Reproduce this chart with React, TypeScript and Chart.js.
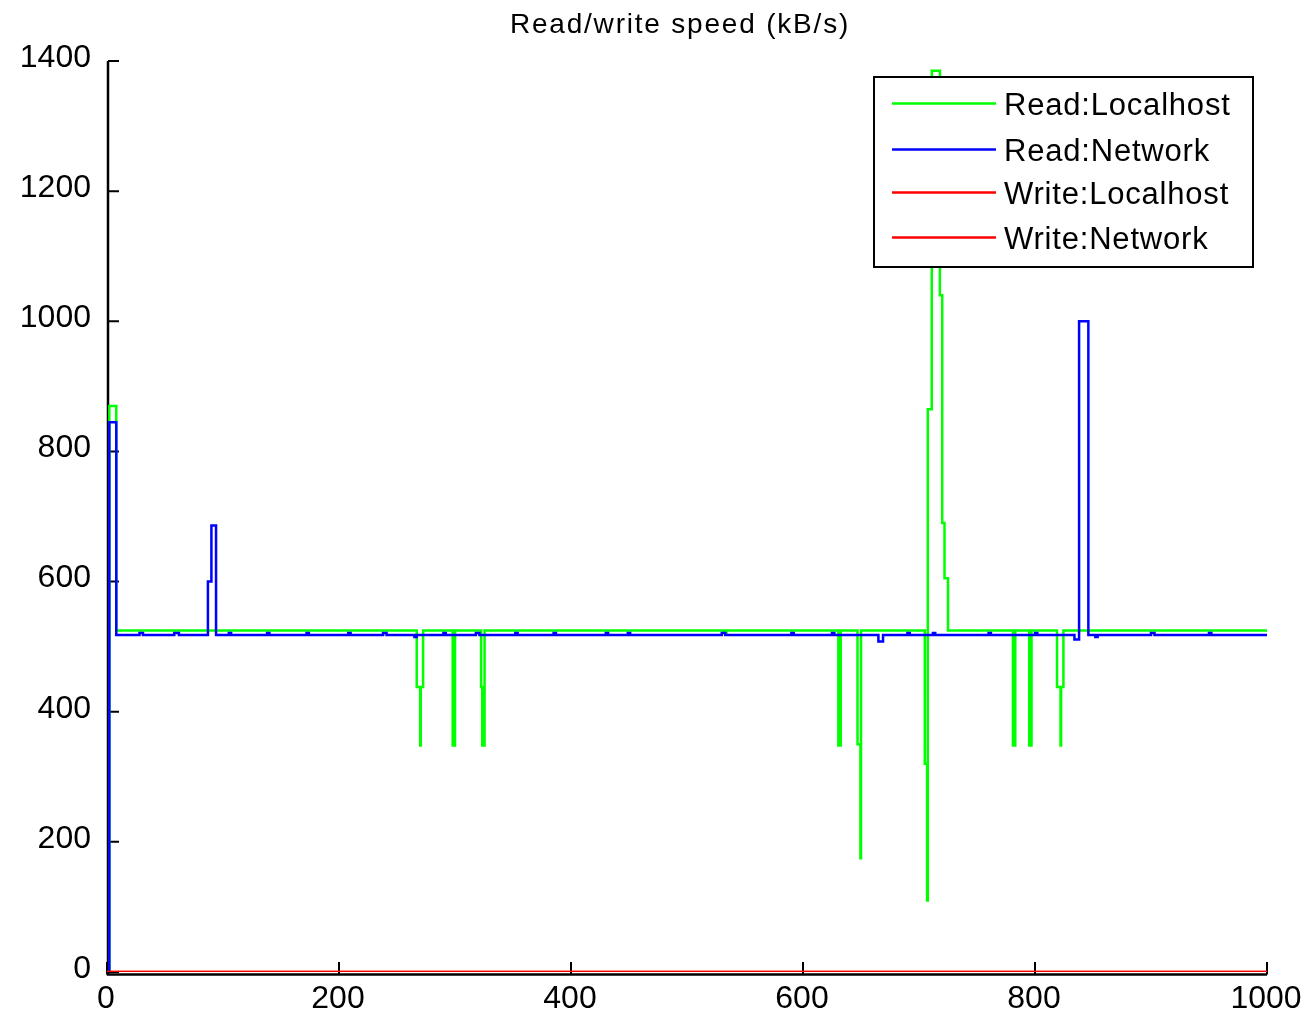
import { useEffect, useRef } from 'react';
import { Chart, registerables } from 'chart.js';

Chart.register(...registerables);

const TITLE = 'Read/write speed (kB/s)';
const SERIES_LABELS = ['Read:Localhost', 'Read:Network', 'Write:Localhost', 'Write:Network'];
const SERIES_COLORS = ['#00ff00', '#0000ff', '#ff0000', '#ff0000'];
const X_TICKS = [0, 200, 400, 600, 800, 1000];
const Y_TICKS = [0, 200, 400, 600, 800, 1000, 1200, 1400];

// [x, value] breakpoints; each value holds until the next breakpoint
const READ_LOCALHOST: [number, number][] = [
  [0, 0], [2, 870], [8, 525],
  [267, 438], [270, 348], [270.5, 438], [272.5, 525],
  [298, 348], [300, 525],
  [322.5, 438], [323.5, 348], [325.5, 525],
  [532, 521], [534, 525],
  [630.5, 348], [632.5, 525],
  [647, 350], [649.5, 175], [650, 525],
  [705, 320], [707, 110], [707.6, 865], [711, 1385], [718, 1040], [720, 690], [722, 605], [725, 525],
  [781, 348], [783, 525],
  [795, 348], [797, 525],
  [819, 438], [822, 348], [822.5, 438], [824.5, 525],
  [1000, 525],
];

const READ_NETWORK: [number, number][] = [
  [0, 0], [2, 845], [8, 518],
  [28, 521], [31, 518], [58, 521], [62, 518],
  [87, 600], [90, 686], [94, 518],
  [105, 521], [107, 518], [138, 521], [140, 518], [172, 521], [174, 518],
  [208, 521], [210, 518], [238, 521], [241, 518], [265, 515], [267, 518],
  [290, 521], [292, 518], [318, 521], [321, 518], [352, 521], [354, 518],
  [385, 521], [387, 518], [430, 521], [432, 518], [449, 521], [451, 518],
  [530, 521], [533, 518], [590, 521], [592, 518], [625, 521], [627, 518],
  [665, 508], [669, 518], [690, 521], [692, 518], [712, 521], [714, 518],
  [760, 521], [762, 518], [800, 521], [802, 518],
  [834, 511], [838, 1000], [846, 518], [852, 515], [854, 518],
  [900, 521], [903, 518], [950, 521], [952, 518],
  [1000, 518],
];

const WRITE_LOCALHOST: [number, number][] = [[0, 0], [1000, 0]];
const WRITE_NETWORK: [number, number][] = [[0, 0], [1000, 0]];

const SERIES = [READ_LOCALHOST, READ_NETWORK, WRITE_LOCALHOST, WRITE_NETWORK];
const DRAW_ORDER = [3, 2, 1, 0]; // lower order = drawn on top

const FONT = "'Liberation Sans', Arial, Helvetica, sans-serif";

const decorPlugin = {
  id: 'matlabDecor',
  beforeDatasetsDraw(chart: any) {
    const { ctx, chartArea: a, scales } = chart;
    const ys = scales.y;
    const xs = scales.x;
    const axisY = a.bottom + 2.5;
    ctx.save();
    ctx.strokeStyle = '#000';
    ctx.lineWidth = 2.5;
    ctx.beginPath();
    ctx.moveTo(a.left + 1, a.top);
    ctx.lineTo(a.left + 1, axisY);
    ctx.lineTo(a.right, axisY);
    ctx.stroke();
    ctx.lineWidth = 2;
    ctx.beginPath();
    for (const v of Y_TICKS) {
      const py = ys.getPixelForValue(v);
      ctx.moveTo(a.left + 1, py);
      ctx.lineTo(a.left + 12, py);
    }
    for (const v of X_TICKS) {
      const px = xs.getPixelForValue(v);
      ctx.moveTo(px, axisY);
      ctx.lineTo(px, a.bottom - 10);
    }
    ctx.stroke();
    ctx.restore();
  },
  afterDatasetsDraw(chart: any) {
    const { ctx } = chart;
    ctx.save();
    // title
    ctx.fillStyle = '#000';
    ctx.font = `28px ${FONT}`;
    (ctx as any).letterSpacing = '1.8px';
    ctx.textAlign = 'center';
    ctx.textBaseline = 'alphabetic';
    ctx.fillText(TITLE, 680, 33);
    // legend
    const bx = 874, by = 77, bw = 379, bh = 190;
    ctx.fillStyle = '#fff';
    ctx.fillRect(bx, by, bw, bh);
    ctx.strokeStyle = '#000';
    ctx.lineWidth = 2;
    ctx.strokeRect(bx, by, bw, bh);
    const rows = [103.5, 149.5, 192.5, 237.5];
    ctx.font = `31px ${FONT}`;
    (ctx as any).letterSpacing = '0.8px';
    ctx.textAlign = 'left';
    chart.data.datasets.forEach((ds: any, i: number) => {
      const y = rows[i];
      ctx.strokeStyle = ds.borderColor;
      ctx.lineWidth = 2.5;
      ctx.beginPath();
      ctx.moveTo(892, y);
      ctx.lineTo(996, y);
      ctx.stroke();
      ctx.fillStyle = '#000';
      ctx.fillText(ds.label, 1004, y + 11);
    });
    ctx.restore();
  },
};

export default function App() {
  const ref = useRef<HTMLCanvasElement | null>(null);

  useEffect(() => {
    if (!ref.current) return;
    const chart = new Chart(ref.current, {
      type: 'line',
      data: {
        datasets: SERIES.map((s, i) => ({
          label: SERIES_LABELS[i],
          data: s.map(([x, y]) => ({ x, y })),
          borderColor: SERIES_COLORS[i],
          backgroundColor: SERIES_COLORS[i],
          borderWidth: 2.5,
          pointRadius: 0,
          pointHoverRadius: 0,
          stepped: true,
          fill: false,
          order: DRAW_ORDER[i],
        })),
      },
      options: {
        animation: false,
        responsive: false,
        devicePixelRatio: 1,
        events: [],
        layout: { padding: { top: 61, right: 40, bottom: 0, left: 0 } },
        plugins: {
          legend: { display: false },
          title: { display: false },
          tooltip: { enabled: false },
        },
        scales: {
          x: {
            type: 'linear',
            min: 0,
            max: 1000,
            grid: { display: false, drawTicks: false },
            border: { display: false },
            afterBuildTicks: (scale: any) => {
              scale.ticks = X_TICKS.map((v) => ({ value: v }));
            },
            afterFit: (scale: any) => {
              scale.height = 44;
              scale.paddingLeft = 0;
              scale.paddingRight = 0;
            },
            ticks: {
              autoSkip: false,
              maxRotation: 0,
              padding: 8,
              labelOffset: -1,
              color: '#000',
              font: { family: FONT, size: 32 },
              callback: (v: any) => String(v),
            },
          },
          y: {
            type: 'linear',
            min: 0,
            max: 1400,
            grid: { display: false, drawTicks: false },
            border: { display: false },
            afterBuildTicks: (scale: any) => {
              scale.ticks = Y_TICKS.map((v) => ({ value: v }));
            },
            afterFit: (scale: any) => {
              scale.width = 107;
            },
            ticks: {
              autoSkip: false,
              padding: 16,
              labelOffset: -3,
              color: '#000',
              font: { family: FONT, size: 32 },
              callback: (v: any) => String(v),
            },
          },
        },
      },
      plugins: [decorPlugin],
    });
    return () => chart.destroy();
  }, []);

  return (
    <div style={{ position: 'absolute', left: 0, top: 0, width: 1307, height: 1016, background: '#fff' }}>
      <canvas ref={ref} width={1307} height={1016} style={{ display: 'block' }} />
    </div>
  );
}
